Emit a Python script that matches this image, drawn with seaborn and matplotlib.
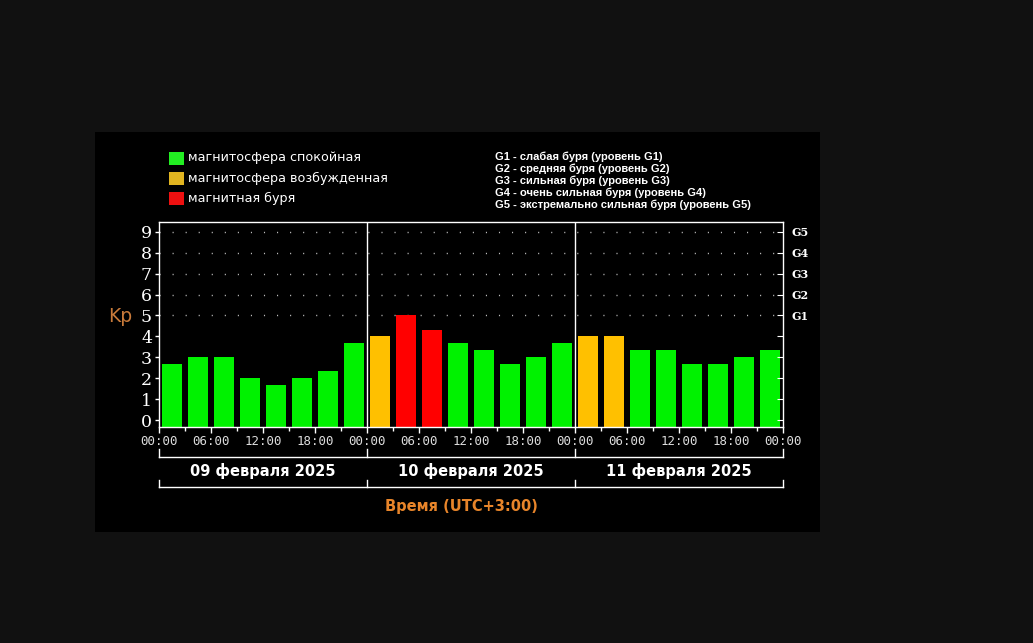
import numpy as np
import pandas as pd
import matplotlib
matplotlib.use("Agg")
import matplotlib.pyplot as plt
import seaborn as sns
from matplotlib.patches import Rectangle
from matplotlib.lines import Line2D

# ---------------- data ----------------
days = ["09 февраля 2025", "10 февраля 2025", "11 февраля 2025"]
kp_day1 = [2.67, 3.0, 3.0, 2.0, 1.67, 2.0, 2.33, 3.67]
kp_day2 = [4.0, 5.0, 4.33, 3.67, 3.33, 2.67, 3.0, 3.67]
kp_day3 = [4.0, 4.0, 3.33, 3.33, 2.67, 2.67, 3.0, 3.33]
status_day1 = ["quiet"] * 8
status_day2 = ["active", "storm", "storm", "quiet", "quiet", "quiet", "quiet", "quiet"]
status_day3 = ["active", "active", "quiet", "quiet", "quiet", "quiet", "quiet", "quiet"]
hour_labels = ["00:00", "06:00", "12:00", "18:00"]
y_ticks = list(range(10))
g_labels = ["G1", "G2", "G3", "G4", "G5"]
legend_labels = ["магнитосфера спокойная", "магнитосфера возбужденная", "магнитная буря"]
g_legend = [
    "G1 - слабая буря (уровень G1)",
    "G2 - средняя буря (уровень G2)",
    "G3 - сильная буря (уровень G3)",
    "G4 - очень сильная буря (уровень G4)",
    "G5 - экстремально сильная буря (уровень G5)",
]

kp = kp_day1 + kp_day2 + kp_day3
status = status_day1 + status_day2 + status_day3
df = pd.DataFrame({"slot": list(range(len(kp))), "kp": kp, "status": status})

bar_colors = {"quiet": "#00f200", "active": "#ffc000", "storm": "#ff0000"}
legend_colors = ["#22ee22", "#e0b420", "#ee1010"]

# ---------------- figure ----------------
W, H = 1033, 643
fig = plt.figure(figsize=(W / 100, H / 100), dpi=100, facecolor="#111111")


def fx(x):
    return x / W


def fy(y):
    return 1 - y / H


fig.patches.append(Rectangle((fx(95), fy(532)), 725 / W, 400 / H,
                             transform=fig.transFigure, facecolor="black",
                             edgecolor="none", zorder=-5))

ax = fig.add_axes([fx(159), fy(427), 624 / W, 205 / H])
ax.set_zorder(2)
ax.set_facecolor("black")

YLO, YHI = -0.32, 9.46

for yv in range(5, 10):
    ax.axhline(yv, color="#bbbbbb", lw=1.0, ls=(0, (0.8, 8.6)), zorder=0)

sns.barplot(data=df, x="slot", y="kp", hue="status", palette=bar_colors,
            hue_order=["quiet", "active", "storm"], dodge=False, width=0.8,
            saturation=1, legend=False, ax=ax, edgecolor="none", zorder=2)

# bars start at the bottom of the axis frame, as in the original chart
for p in ax.patches:
    h = p.get_y() + p.get_height()
    p.set_y(YLO)
    p.set_height(h - YLO)

ax.set_xlim(-0.5, 23.5)
ax.set_ylim(YLO, YHI)
ax.axvline(7.5, color="white", lw=1, zorder=3)
ax.axvline(15.5, color="white", lw=1, zorder=3)

for s in ax.spines.values():
    s.set_color("white")
    s.set_linewidth(1)

ax.set_yticks(y_ticks)
ax.set_yticklabels([str(v) for v in y_ticks], color="white",
                   fontsize=12.5, family="DejaVu Serif")
ax.tick_params(axis="y", colors="white", length=3, width=1, pad=2)

major = np.arange(-0.5, 24, 2)
ax.set_xticks(major)
ax.set_xticklabels([hour_labels[i % 4] for i in range(len(major))],
                   color="#dddddd", fontsize=9, family="DejaVu Sans Mono")
ax.set_xticks(np.arange(0.5, 24, 2), minor=True)
ax.tick_params(axis="x", which="major", colors="white", length=4, width=1, pad=2)
ax.tick_params(axis="x", which="minor", colors="white", length=3, width=1)
for lab in ax.get_xticklabels():
    lab.set_color("#dddddd")
ax.set_xlabel("")
ax.set_ylabel("")

ax2 = ax.twinx()
ax2.set_zorder(3)
ax2.patch.set_visible(False)
ax2.set_ylim(ax.get_ylim())
ax2.set_yticks(y_ticks)
ax2.set_yticklabels([""] * 5 + g_labels, color="white", fontsize=8,
                    family="DejaVu Serif", fontweight="bold")
ax2.tick_params(axis="y", colors="white", direction="in", length=4, pad=6)
for lab in ax2.get_yticklabels():
    lab.set_color("white")
for s in ax2.spines.values():
    s.set_visible(False)

# Kp label
fig.text(fx(120), fy(317), "Kp", color="#c87a3a", fontsize=13.5,
         ha="center", va="center")

# legend
for i, (lab, c) in enumerate(zip(legend_labels, legend_colors)):
    yc = 158 + 20 * i
    fig.patches.append(Rectangle((fx(169), fy(yc + 6.5)), 15 / W, 13 / H,
                                 transform=fig.transFigure, facecolor=c,
                                 edgecolor="none"))
    fig.text(fx(188), fy(yc), lab, color="white", fontsize=9.2,
             ha="left", va="center")

for i, t in enumerate(g_legend):
    fig.text(fx(495), fy(157 + 12 * i), t, color="white", fontsize=8,
             family="Liberation Sans", fontweight="bold", ha="left", va="center")

# day brackets
xs = [159, 367, 575, 783]
for (ytop, ybot) in [(449, 457), (480, 487)]:
    fig.add_artist(Line2D([fx(159), fx(783)], [fy(ybot), fy(ybot)],
                          transform=fig.transFigure, color="white", lw=1))
    for x in xs:
        fig.add_artist(Line2D([fx(x), fx(x)], [fy(ytop), fy(ybot)],
                              transform=fig.transFigure, color="white", lw=1))

for i, d in enumerate(days):
    xc = (xs[i] + xs[i + 1]) / 2
    fig.text(fx(xc), fy(471), d, color="white", fontsize=10.5,
             fontweight="bold", ha="center", va="center")

fig.text(fx(461), fy(506), "Время (UTC+3:00)", color="#e8852a", fontsize=10.5,
         fontweight="bold", ha="center", va="center")

fig.savefig("out.png", dpi=100, facecolor=fig.get_facecolor())
